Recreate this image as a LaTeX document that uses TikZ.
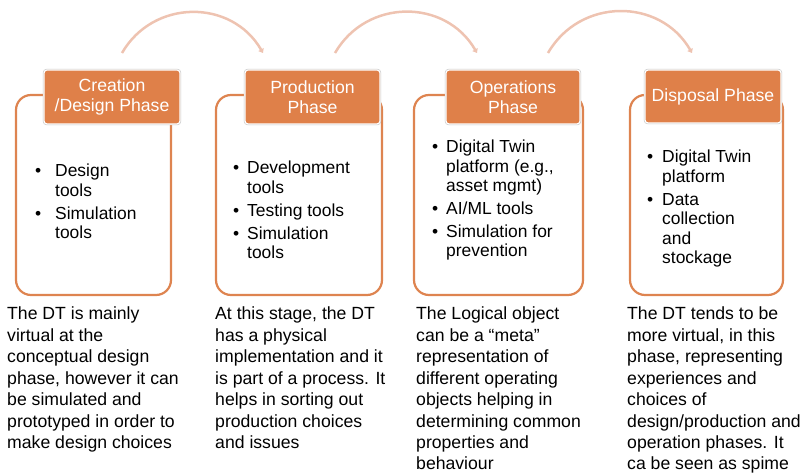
\documentclass[tikz,border=0pt]{standalone}
\usepackage{fontspec}
\setmainfont{Liberation Sans}
\usetikzlibrary{arrows.meta,fit}
% bullet and indent for the tool lists
\newcommand{\bul}[1][14bp]{\makebox[#1][l]{\textbullet}}
\newcommand{\cont}[1][14bp]{\hspace*{#1}}
\begin{document}
\begin{tikzpicture}[x=1bp,y=-1bp,
  phasebox/.style={draw=colorbox, line width=2.2bp, rounded corners=15bp, fill=white, inner sep=0pt},
  phasehead/.style={fill=colorhead, draw=white, line width=1.2bp, rounded corners=3bp, text=white, align=center, inner sep=0pt,
    minimum width=136bp, minimum height=54bp,
    font=\fontsize{17.7}{20}\selectfont, preaction={draw=black!22, line width=2.4bp}},
  toollist/.style={align=left, anchor=north west, inner sep=0pt, font=\fontsize{17.5}{19.5}\selectfont},
  phasetext/.style={align=left, anchor=north west, inner sep=0pt, font=\fontsize{17.7}{21.5}\selectfont},
  phasearrow/.style={-{Triangle[length=4bp,width=6bp]}, line width=2.5bp, color=colorarrow}]
% Define colors
\definecolor{colorhead}{HTML}{DF8049}
\definecolor{colorbox}{HTML}{DE8450}
\definecolor{colorarrow}{HTML}{EEC3B1}
\useasboundingbox (0,0) rectangle (800,475);
  %%%%%%%%%%%%%%%%% Phase boxes
  \node[phasebox, fit={(16,95) (171,295)}] (box1) {};
  \node[phasebox, fit={(216,95) (382,295)}] (box2) {};
  \node[phasebox, fit={(414,95) (583,295)}] (box3) {};
  \node[phasebox, fit={(630,95) (783,295)}] (box4) {};
  % Headers
  \node[phasehead] (head1) at (112,97) {Creation\\/Design Phase};
  \node[phasehead, minimum width=135bp] (head2) at (312.5,97) {Production\\Phase};
  \node[phasehead, minimum width=134bp] (head3) at (513,97) {Operations\\Phase};
  \node[phasehead, minimum height=53bp] (head4) at (713,96.5) {Disposal Phase};
  % Tools
  \node[toollist] (list1) at (35,164) {\bul[20bp]Design\\\cont[20bp]tools\\[3.5bp]\bul[20bp]Simulation\\\cont[20bp]tools};
  \node[toollist] (list2) at (233,161) {\bul Development\\\cont tools\\[3.5bp]\bul Testing tools\\[3.5bp]\bul Simulation\\\cont tools};
  \node[toollist] (list3) at (432,140) {\bul Digital Twin\\\cont platform (e.g.,\\\cont asset mgmt)\\[3.5bp]\bul AI/ML tools\\[3.5bp]\bul Simulation for\\\cont prevention};
  \node[toollist] (list4) at (647,150) {\bul[15bp]Digital Twin\\\cont[15bp]platform\\[3.5bp]\bul[15bp]Data\\\cont[15bp]collection\\\cont[15bp]and\\\cont[15bp]stockage};
  % Descriptions
  \node[phasetext] (desc1) at (7,307) {The DT is mainly\\virtual at the\\conceptual design\\phase, however it can\\be simulated and\\prototyped in order to\\make design choices};
  \node[phasetext] (desc2) at (215,307) {At this stage, the DT\\has a physical\\implementation and it\\is part of a process. It\\helps in sorting out\\production choices\\and issues};
  \node[phasetext] (desc3) at (416,307) {The Logical object\\can be a “meta”\\representation of\\different operating\\objects helping in\\determining common\\properties and\\behaviour};
  \node[phasetext] (desc4) at (627,307) {The DT tends to be\\more virtual, in this\\phase, representing\\experiences and\\choices of\\design/production and\\operation phases. It\\ca be seen as spime};
  %%%%%%%%%%%%%%%%% Arrows between phases
  \coordinate (arc1s) at (122,53);
  \coordinate (arc1e) at (263,53);
  \coordinate (arc2s) at (335,53);
  \coordinate (arc2e) at (477,53);
  \coordinate (arc3s) at (548,53);
  \coordinate (arc3e) at (692,53);
  \draw[phasearrow] (arc1s) to[bend left=60, looseness=1.14] (arc1e);
  \draw[phasearrow] (arc2s) to[bend left=60, looseness=1.14] (arc2e);
  \draw[phasearrow] (arc3s) to[bend left=60, looseness=1.14] (arc3e);
\end{tikzpicture}
\end{document}
